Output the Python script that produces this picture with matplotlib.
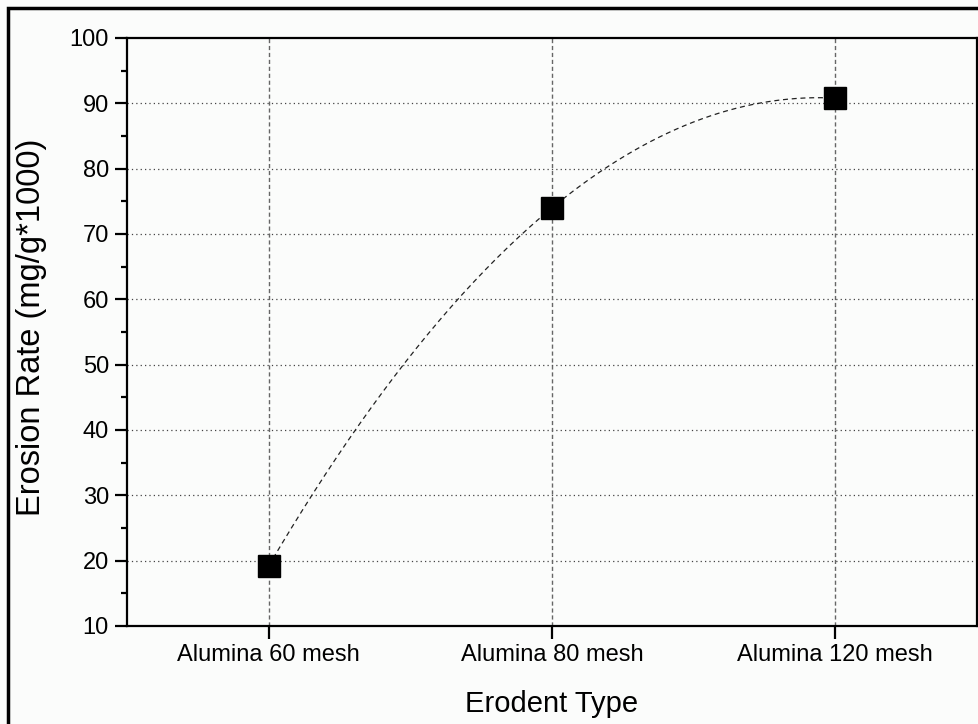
import numpy as np
import matplotlib
matplotlib.use("Agg")
import matplotlib.pyplot as plt
from matplotlib.patches import Rectangle

categories = ["Alumina 60 mesh", "Alumina 80 mesh", "Alumina 120 mesh"]
erosion_rate = [19.2, 74.0, 90.8]
y_ticks = [10, 20, 30, 40, 50, 60, 70, 80, 90, 100]

plt.rcParams['font.family'] = ['Liberation Sans', 'DejaVu Sans']

bg = '#fbfcfb'
fig = plt.figure(figsize=(9.79, 7.24), dpi=100, facecolor=bg)
ax = fig.add_axes([127/979, 1-626/724, 850/979, 588/724], facecolor=bg)

x = np.arange(len(categories))
# smooth fitted line through the points
coef = np.polyfit(x, erosion_rate, 2)
xs = np.linspace(x[0], x[-1], 200)
ax.plot(xs, np.polyval(coef, xs), color='#222222', lw=0.9, ls=(0, (4, 3)), zorder=3)
ax.plot(x, erosion_rate, ls='none', marker='s', ms=16.5, color='black', zorder=4)

ax.set_xlim(-0.5, 2.5)
ax.set_ylim(10, 100)
ax.set_xticks(x)
ax.set_xticklabels(categories)
ax.set_yticks(y_ticks)
ax.set_yticks(np.arange(15, 100, 10), minor=True)

for yv in y_ticks[1:-1]:
    ax.axhline(yv, color='#444444', lw=0.9, ls=(0, (1, 2.5)), zorder=1)
for xv in x:
    ax.axvline(xv, color='#666666', lw=1.0, ls=(0, (3, 2)), zorder=1)

for s in ax.spines.values():
    s.set_linewidth(1.6)
    s.set_color('black')

ax.tick_params(axis='both', which='major', direction='out', length=9, width=1.6,
               labelsize=17, pad=4, colors='black')
ax.tick_params(axis='y', which='minor', direction='out', length=4.5, width=1.6)
ax.tick_params(axis='x', which='minor', bottom=False)
ax.tick_params(top=False, right=False)

ax.set_xlabel("Erodent Type", fontsize=21, va='center')
ax.set_ylabel("Erosion Rate (mg/g*1000)", fontsize=23.5, va='center')
ax.xaxis.set_label_coords(0.5, (626 - 704) / 588)
ax.yaxis.set_label_coords((32 - 127) / 850, (626 - 327) / 588)

# outer frame
fig.patches.append(Rectangle((8/979, -0.05), 1.0, 1 - 8/724 + 0.05, transform=fig.transFigure,
                             fill=False, edgecolor='black', lw=2.5, zorder=0))

fig.savefig("out.png", dpi=100, facecolor=bg)
